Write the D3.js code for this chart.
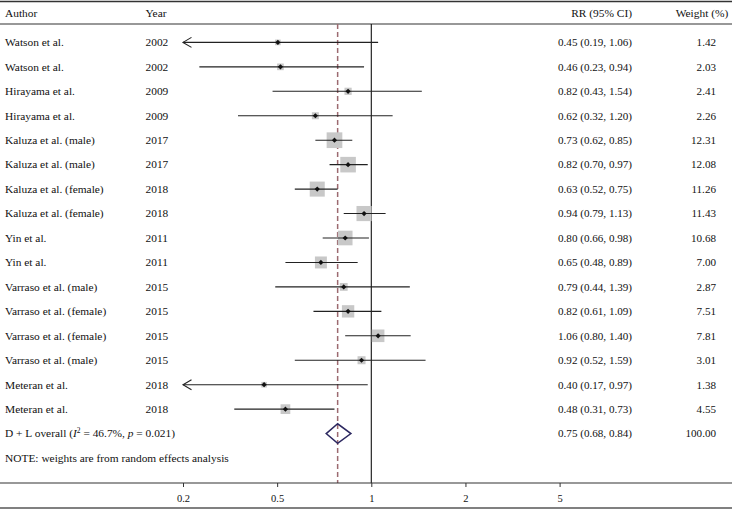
<!DOCTYPE html>
<html><head><meta charset="utf-8">
<script src="https://cdn.jsdelivr.net/npm/d3@7"></script>
<style>
html,body{margin:0;padding:0;background:#fff;}
svg text{font-family:"Liberation Serif","Times New Roman",serif;fill:#111;}
</style></head>
<body><svg id="c" width="732" height="522"></svg>
<script>
const authors = ["Watson et al.","Watson et al.","Hirayama et al.","Hirayama et al.","Kaluza et al. (male)","Kaluza et al. (male)","Kaluza et al. (female)","Kaluza et al. (female)","Yin et al.","Yin et al.","Varraso et al. (male)","Varraso et al. (female)","Varraso et al. (female)","Varraso et al. (male)","Meteran et al.","Meteran et al."];
const years = ["2002","2002","2009","2009","2017","2017","2018","2018","2011","2011","2015","2015","2015","2015","2018","2018"];
const rr    = [0.45,0.46,0.82,0.62,0.73,0.82,0.63,0.94,0.80,0.65,0.79,0.82,1.06,0.92,0.40,0.48];
const lower = [0.19,0.23,0.43,0.32,0.62,0.70,0.52,0.79,0.66,0.48,0.44,0.61,0.80,0.52,0.17,0.31];
const upper = [1.06,0.94,1.54,1.20,0.85,0.97,0.75,1.13,0.98,0.89,1.39,1.09,1.40,1.59,0.97,0.73];
const weights = [1.42,2.03,2.41,2.26,12.31,12.08,11.26,11.43,10.68,7.00,2.87,7.51,7.81,3.01,1.38,4.55];
const overall = {rr:0.75, lower:0.68, upper:0.84, weight:100.00};
const overallLabel = "D + L overall";
const noteText = "NOTE: weights are from random effects analysis";
const tickValues = [0.2, Math.sqrt(0.2), 1, Math.sqrt(5), 5];
const tickLabels = ["0.2","0.5","1","2","5"];

const svg = d3.select("#c");
const W = 732;
const x = d3.scaleLog().domain([0.2,5]).range([183,559.6]);
const nRows = authors.length + 2;
const y = d3.scalePoint().domain(d3.range(nRows)).range([42.4, 42.4 + 24.45*(nRows-1)]);
const side = d3.scaleLinear().domain([Math.sqrt(2.26), Math.sqrt(12.31)]).range([7,15.7]);
const fs = 11.4;
const topY = 24, axisY = 483;

// frame lines
svg.append("line").attr("x1",0).attr("x2",W).attr("y1",1.5).attr("y2",1.5).attr("stroke","#333").attr("stroke-width",1.5);
svg.append("line").attr("x1",0).attr("x2",W).attr("y1",topY).attr("y2",topY).attr("stroke","#333").attr("stroke-width",1.2);
svg.append("line").attr("x1",0).attr("x2",W).attr("y1",508).attr("y2",508).attr("stroke","#808080").attr("stroke-width",2.2);

// headers
const hdrY = 17;
svg.append("text").attr("x",5).attr("y",hdrY).attr("font-size",fs).text("Author");
svg.append("text").attr("x",145.5).attr("y",hdrY).attr("font-size",fs).text("Year");
svg.append("text").attr("x",632).attr("y",hdrY).attr("font-size",fs).attr("text-anchor","end").text("RR (95% CI)");
svg.append("text").attr("x",702).attr("y",hdrY).attr("font-size",fs).attr("text-anchor","middle").text("Weight (%)");

// reference lines
svg.append("line").attr("x1",x(1)).attr("x2",x(1)).attr("y1",topY).attr("y2",axisY).attr("stroke","#111").attr("stroke-width",1.1);
svg.append("line").attr("x1",x(overall.rr)).attr("x2",x(overall.rr)).attr("y1",topY).attr("y2",axisY)
  .attr("stroke","#9c6a70").attr("stroke-width",1.5).attr("stroke-dasharray","5,3");

// study rows
authors.forEach((a,i)=>{
  const yy = y(i);
  svg.append("text").attr("x",5).attr("y",yy+3.8).attr("font-size",fs).text(a);
  svg.append("text").attr("x",145.5).attr("y",yy+3.8).attr("font-size",fs).text(years[i]);
  svg.append("text").attr("x",632).attr("y",yy+3.8).attr("font-size",fs-0.3).attr("text-anchor","end")
    .text(`${rr[i].toFixed(2)} (${lower[i].toFixed(2)}, ${upper[i].toFixed(2)})`);
  svg.append("text").attr("x",716).attr("y",yy+3.8).attr("font-size",fs-0.3).attr("text-anchor","end").text(weights[i].toFixed(2));
  const s = side(Math.sqrt(weights[i]));
  svg.append("rect").attr("x",x(rr[i])-s/2).attr("y",yy-s/2).attr("width",s).attr("height",s).attr("fill","#c8c8c8");
  const lo = Math.max(lower[i], x.domain()[0]);
  const hi = Math.min(upper[i], x.domain()[1]);
  svg.append("line").attr("x1",x(lo)).attr("x2",x(hi)).attr("y1",yy).attr("y2",yy).attr("stroke","#222").attr("stroke-width",1.1);
  if (lower[i] < x.domain()[0]) {
    const ax = x(x.domain()[0]);
    svg.append("path").attr("d",`M${ax+8.5},${yy-5}L${ax},${yy}L${ax+8.5},${yy+5}`).attr("fill","none").attr("stroke","#222").attr("stroke-width",1.1);
  }
  const d = 2.6;
  svg.append("path").attr("d",`M${x(rr[i])},${yy-d}L${x(rr[i])+d},${yy}L${x(rr[i])},${yy+d}L${x(rr[i])-d},${yy}Z`).attr("fill","#111");
});

// overall row
const oy = y(authors.length);
const ot = svg.append("text").attr("x",5).attr("y",oy+3.8).attr("font-size",fs);
ot.append("tspan").text(overallLabel + " (");
ot.append("tspan").attr("font-style","italic").text("I");
ot.append("tspan").attr("font-size",7.5).attr("dy",-4.5).text("2");
ot.append("tspan").attr("dy",4.5).text(" = 46.7%, ");
ot.append("tspan").attr("font-style","italic").text("p");
ot.append("tspan").text(" = 0.021)");
svg.append("text").attr("x",632).attr("y",oy+3.8).attr("font-size",fs-0.3).attr("text-anchor","end")
  .text(`${overall.rr.toFixed(2)} (${overall.lower.toFixed(2)}, ${overall.upper.toFixed(2)})`);
svg.append("text").attr("x",716).attr("y",oy+3.8).attr("font-size",fs-0.3).attr("text-anchor","end").text(overall.weight.toFixed(2));
svg.append("path")
  .attr("d",`M${x(overall.lower)},${oy}L${x(overall.rr)},${oy-9.8}L${x(overall.upper)},${oy}L${x(overall.rr)},${oy+9.8}Z`)
  .attr("fill","none").attr("stroke","#2c2860").attr("stroke-width",1.5);

// note
svg.append("text").attr("x",5).attr("y",y(authors.length+1)+3.8).attr("font-size",fs).text(noteText);

// axis
svg.append("line").attr("x1",0).attr("x2",W).attr("y1",axisY).attr("y2",axisY).attr("stroke","#333").attr("stroke-width",1.1);
const axis = d3.axisBottom(x).tickValues(tickValues).tickFormat((d,i)=>tickLabels[i]).tickSize(4).tickSizeOuter(0);
const g = svg.append("g").attr("transform",`translate(0,${axisY})`).call(axis);
g.select(".domain").remove();
g.selectAll(".tick line").attr("stroke","#333");
g.selectAll(".tick text").attr("font-size",10.5).attr("dy",null).attr("y",18.5).attr("fill","#111")
  .style("font-family","'Liberation Serif',serif");
</script></body></html>
